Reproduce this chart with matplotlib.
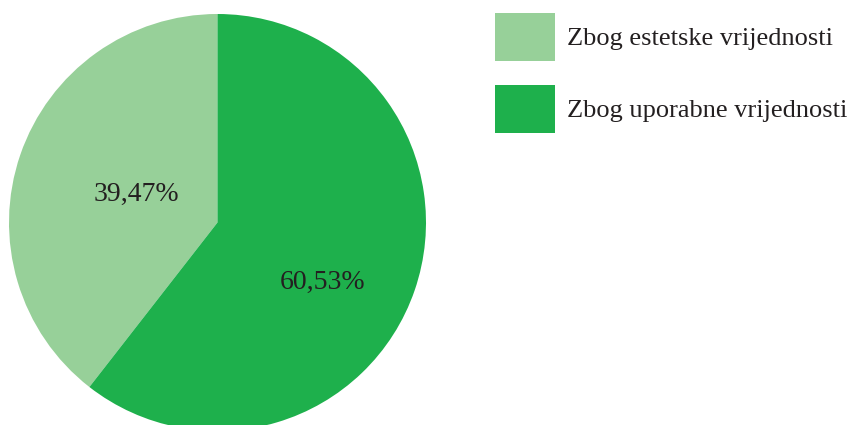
import matplotlib.pyplot as plt
from matplotlib.patches import Patch
import numpy as np

# podaci
labels = ['Zbog estetske vrijednosti', 'Zbog uporabne vrijednosti']
values = [39.47, 60.53]
colors = ['#97D099', '#1EB04C']
pct_text = ['39,47%', '60,53%']

plt.rcParams['font.family'] = ['Liberation Serif', 'DejaVu Serif']

W, H = 854, 425
fig = plt.figure(figsize=(W / 100, H / 100), dpi=100)

# krug: sredina (217.5, 222.5) px, radijus 208.5 px
cx, cy, r = 217.5, 222.5, 208.5
ax = fig.add_axes([(cx - r) / W, (H - cy - r) / H, 2 * r / W, 2 * r / H])

wedges, _ = ax.pie(values, colors=colors, startangle=90, counterclock=True,
                   wedgeprops=dict(linewidth=0))
ax.set_xlim(-1, 1)
ax.set_ylim(-1, 1)
ax.set_aspect('equal')
ax.axis('off')

# postotci unutar isjecaka
label_pos = [(0.41, 0.0), (0.58, -11.0)]  # (udaljenost, pomak kuta)
for w, txt, (dist, dang) in zip(wedges, pct_text, label_pos):
    ang = np.deg2rad((w.theta1 + w.theta2) / 2 + dang)
    ax.text(dist * np.cos(ang), dist * np.sin(ang), txt, ha='center', va='center',
            fontsize=20, color='#231F20')

# legenda
fs = 19
handles = [Patch(facecolor=c, edgecolor='none') for c in colors]
fig.legend(handles, labels, loc='upper left',
           bbox_to_anchor=(495 / W, 1 - 13 / H), bbox_transform=fig.transFigure,
           frameon=False, fontsize=fs, borderpad=0, borderaxespad=0,
           handlelength=2.27, handleheight=2.42, handletextpad=0.45,
           labelspacing=0.9, labelcolor='#231F20')

plt.savefig('out.png', dpi=100)
